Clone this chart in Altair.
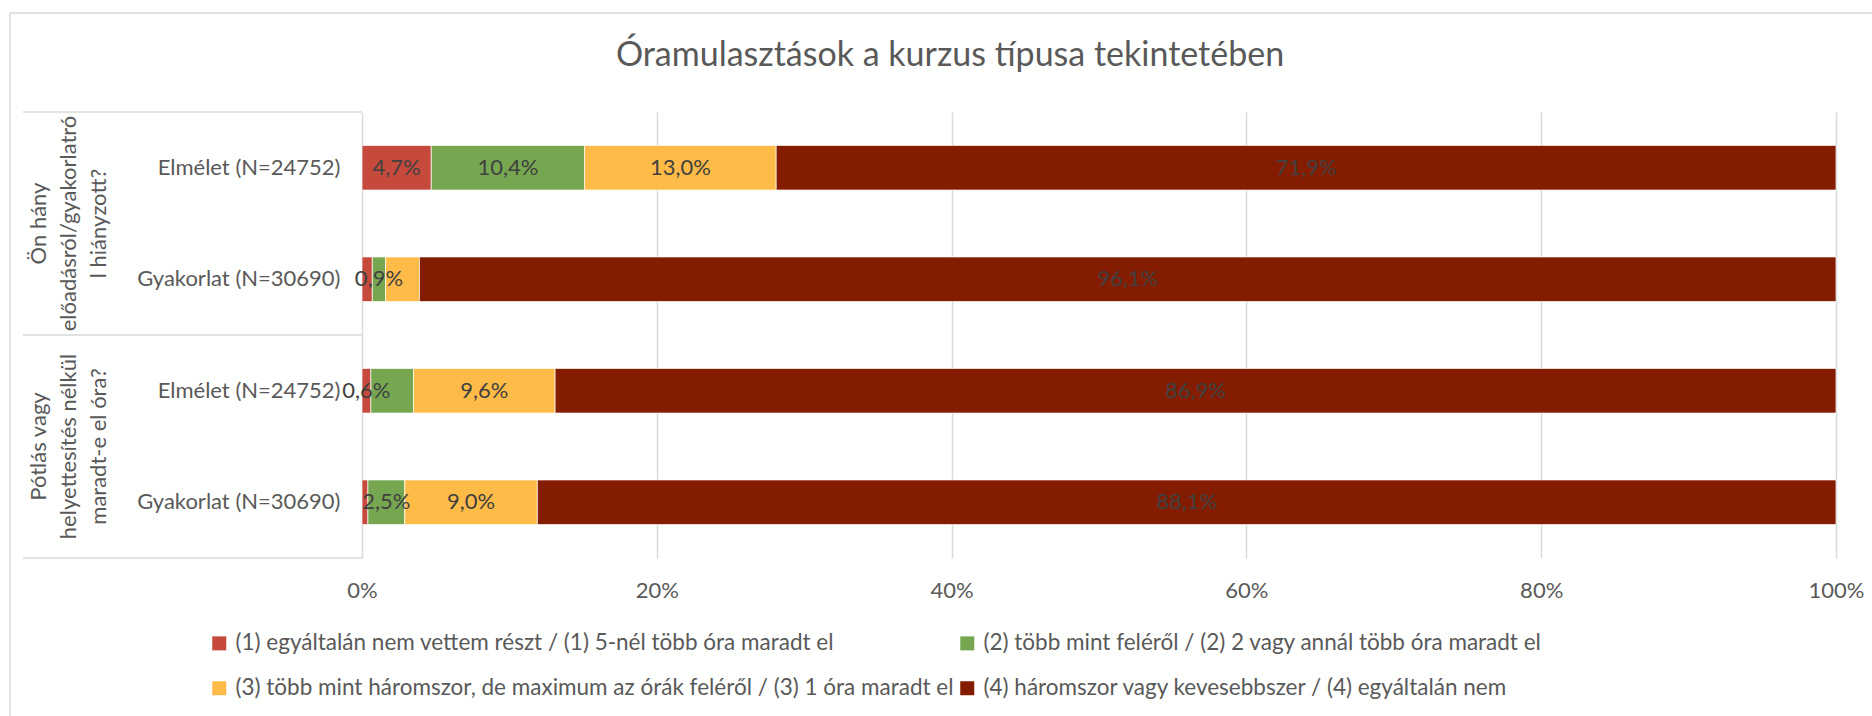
import altair as alt
import pandas as pd

title_text = "Óramulasztások a kurzus típusa tekintetében"
groups = ["Ön hány előadásról/gyakorlatról hiányzott?",
          "Pótlás vagy helyettesítés nélkül maradt-e el óra?"]
group_lines = ["Ön hány|előadásról/gyakorlatró|l hiányzott?",
               "Pótlás vagy|helyettesítés nélkül|maradt-e el óra?"]
row_labels = ["Elmélet (N=24752)", "Gyakorlat (N=30690)",
              "Elmélet (N=24752)", "Gyakorlat (N=30690)"]
series = [
    "(1) egyáltalán nem vettem részt / (1) 5-nél több óra maradt el",
    "(2) több mint feléről / (2) 2 vagy annál több óra maradt el",
    "(3) több mint háromszor, de maximum az órák feléről / (3) 1 óra maradt el",
    "(4) háromszor vagy kevesebbszer / (4) egyáltalán nem",
]
colors = ["#C54A3C", "#76A650", "#FFBB47", "#841D00"]
values = [
    [4.7, 10.4, 13.0, 71.9],
    [0.7, 0.9, 2.3, 96.1],
    [0.6, 2.9, 9.6, 86.9],
    [0.4, 2.5, 9.0, 88.1],
]
label_shown = [
    [1, 1, 1, 1],
    [0, 1, 0, 1],
    [1, 0, 1, 1],
    [0, 1, 1, 1],
]
x_ticks = [0, 20, 40, 60, 80, 100]

FONT = "Lato"
GREY = "#595959"
LINE = "#D9D9D9"
FS = 22

row_keys = [f"{i}|{lab}" for i, lab in enumerate(row_labels)]
recs = []
for i, key in enumerate(row_keys):
    for s, name in enumerate(series):
        recs.append({"row": key, "series": name, "s_idx": s,
                     "value": values[i][s], "shown": label_shown[i][s]})
df = pd.DataFrame(recs)
df_groups = pd.DataFrame({"group": groups, "lines": group_lines})
dummy = pd.DataFrame({"a": [0]})

W, H = 1474, 446

y_scale = alt.Scale(domain=row_keys, paddingInner=0.6, paddingOuter=0.3)
x_scale = alt.Scale(domain=[0, 100], nice=False)
x_axis = alt.Axis(values=x_ticks, labelExpr="datum.value + '%'", title=None,
                  grid=True, gridColor=LINE, gridWidth=1.5, domain=False,
                  ticks=False, tickSize=0, labelFont=FONT, labelFontSize=FS,
                  labelColor=GREY, labelBaseline="middle", labelPadding=32,
                  labelFlush=False, labelOverlap=False)

bars = alt.Chart(df).mark_bar(stroke="white", strokeWidth=0.7).encode(
    x=alt.X("value:Q", stack="zero", scale=x_scale, axis=x_axis),
    y=alt.Y("row:N", sort=row_keys, scale=y_scale,
            axis=alt.Axis(labelExpr="split(datum.label, '|')[1]", title=None,
                          domain=False, ticks=False, tickSize=0, labelPadding=22,
                          labelFont=FONT, labelFontSize=FS, labelColor=GREY,
                          labelLimit=400)),
    color=alt.Color("series:N", scale=alt.Scale(domain=series, range=colors),
                    legend=alt.Legend(title=None, orient="none", legendX=-154, legendY=520,
                                      direction="horizontal",
                                      columns=2, columnPadding=2, rowPadding=22,
                                      symbolType="square", symbolSize=196,
                                      symbolStrokeWidth=0, labelOffset=5,
                                      labelFont=FONT, labelFontSize=22.5, labelColor=GREY,
                                      labelLimit=2000, padding=0)),
    order=alt.Order("s_idx:Q"),
)

labels = alt.Chart(df).transform_stack(
    stack="value", as_=["v0", "v1"], groupby=["row"], sort=[alt.SortField("s_idx")]
).transform_calculate(
    mid="(datum.v0 + datum.v1) / 2",
    lab="replace(format(datum.value, '.1f'), '.', ',') + '%'",
).transform_filter("datum.shown == 1").mark_text(
    font=FONT, fontSize=FS, color="#404040", align="center", baseline="middle"
).encode(
    x=alt.X("mid:Q", scale=x_scale, axis=x_axis),
    y=alt.Y("row:N", sort=row_keys, scale=y_scale, axis=None),
    text="lab:N",
)

group_text = alt.Chart(df_groups).mark_text(
    font=FONT, fontSize=FS, color=GREY, angle=270, align="center",
    baseline="top", lineBreak="|", lineHeight=30
).encode(
    x=alt.value(-333),
    y=alt.Y("group:N", sort=groups,
            scale=alt.Scale(domain=groups, paddingInner=0, paddingOuter=0), axis=None),
    text="lines:N",
)

frame_rules = [
    alt.Chart(dummy).mark_rule(color=LINE, strokeWidth=1.5).encode(
        x=alt.value(-339), x2=alt.value(0), y=alt.value(yv))
    for yv in [0, H / 2, H]
]

border = alt.Chart(dummy).mark_rect(fill=None, stroke=LINE, strokeWidth=1.5).encode(
    x=alt.value(-352), x2=alt.value(W + 60), y=alt.value(-99), y2=alt.value(H + 200)
)

title = alt.Chart(dummy).mark_text(
    text=title_text, font=FONT, fontSize=34, color=GREY, align="center", baseline="middle"
).encode(x=alt.value(950 - 362), y=alt.value(56 - 112))

chart = alt.layer(
    border, *frame_rules, bars, labels, group_text, title
).resolve_scale(y="independent").properties(
    width=W, height=H,
    padding={"left": 362, "top": 112, "right": 36, "bottom": 158},
    autosize=alt.AutoSizeParams(type="none"),
).configure_view(stroke=None)

chart.save("out.html", embed_options={"renderer": "svg", "actions": False})
